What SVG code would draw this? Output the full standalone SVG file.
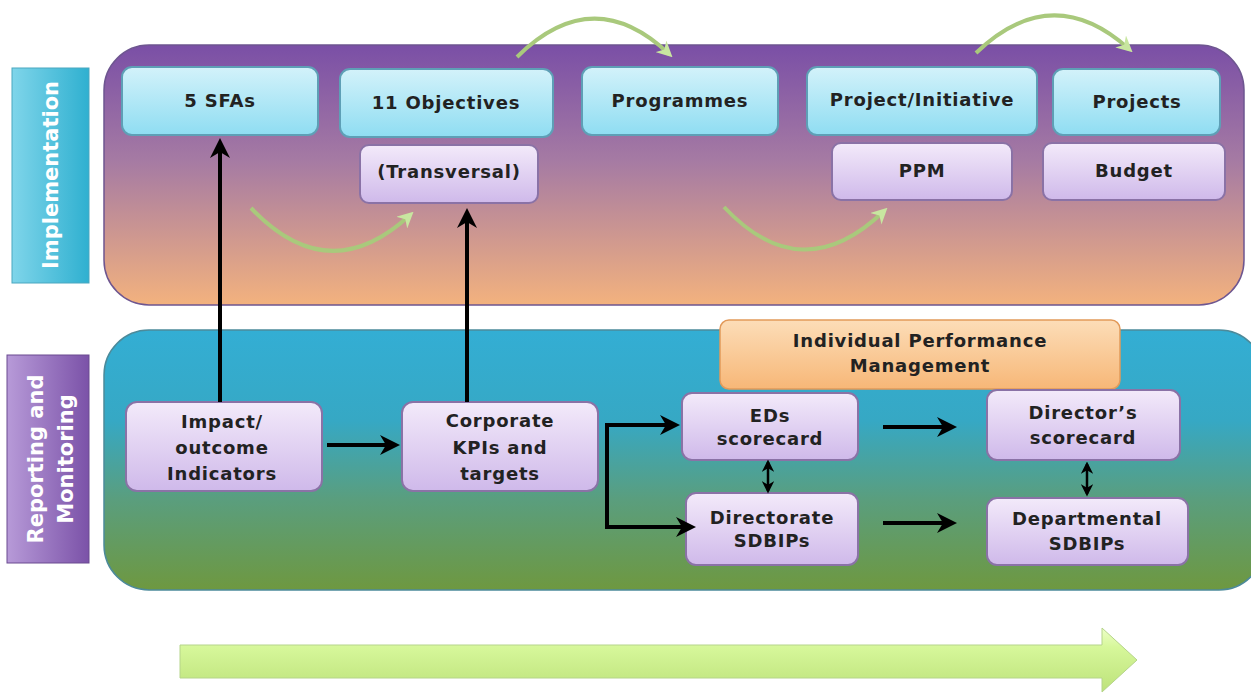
<svg xmlns="http://www.w3.org/2000/svg" width="1251" height="695" viewBox="0 0 1251 695">
<defs>
<linearGradient id="gTop" x1="0" y1="0" x2="0" y2="1"><stop offset="0" stop-color="#7A4FA6"/><stop offset="0.45" stop-color="#A67BA3"/><stop offset="1" stop-color="#F3B27E"/></linearGradient>
<linearGradient id="gBot" x1="0" y1="0" x2="0" y2="1"><stop offset="0" stop-color="#33AED4"/><stop offset="0.35" stop-color="#36A8C4"/><stop offset="0.65" stop-color="#5A9E7E"/><stop offset="1" stop-color="#6E9840"/></linearGradient>
<linearGradient id="gCyan" x1="0" y1="0" x2="0" y2="1"><stop offset="0" stop-color="#D3F2FA"/><stop offset="1" stop-color="#8FDDF2"/></linearGradient>
<linearGradient id="gPur" x1="0" y1="0" x2="0" y2="1"><stop offset="0" stop-color="#F3EAFA"/><stop offset="1" stop-color="#CFB9EA"/></linearGradient>
<linearGradient id="gOr" x1="0" y1="0" x2="0" y2="1"><stop offset="0" stop-color="#FCDDB8"/><stop offset="1" stop-color="#F7B777"/></linearGradient>
<linearGradient id="gLab1" x1="0" y1="0" x2="1" y2="0"><stop offset="0" stop-color="#7FD5EA"/><stop offset="1" stop-color="#2FB0D0"/></linearGradient>
<linearGradient id="gLab2" x1="0" y1="0" x2="1" y2="0"><stop offset="0" stop-color="#B79AD8"/><stop offset="1" stop-color="#7B52A8"/></linearGradient>
<linearGradient id="gArrow" x1="0" y1="0" x2="0" y2="1"><stop offset="0" stop-color="#EEFFC8"/><stop offset="0.3" stop-color="#D6F79A"/><stop offset="1" stop-color="#BDE27A"/></linearGradient>
<marker id="ah" viewBox="0 0 10 10" refX="8" refY="5" markerWidth="5" markerHeight="5" orient="auto-start-reverse"><path d="M0,0 L10,5 L0,10 L3,5 z" fill="#000"/></marker>
<marker id="gh" viewBox="0 0 10 10" refX="7" refY="5" markerWidth="4" markerHeight="4" orient="auto"><path d="M0,0 L10,5 L0,10 L3,5 z" fill="#C8E6A0"/></marker>
</defs>
<style>
.t{font-family:"DejaVu Sans","Liberation Sans",sans-serif;font-weight:bold;font-size:18px;letter-spacing:0.8px;fill:#222;text-anchor:middle}
.lab{font-family:"DejaVu Sans","Liberation Sans",sans-serif;font-weight:bold;font-size:21px;fill:#fff;text-anchor:middle}
.cy{fill:url(#gCyan);stroke:#5E9FB6;stroke-width:2}
.pu{fill:url(#gPur);stroke:#8A72A6;stroke-width:2}
.or{fill:url(#gOr);stroke:#E29A5A;stroke-width:1.5}
.blk{fill:none;stroke:#000;stroke-width:4}
.grn{fill:none;stroke:#A9C97C;stroke-width:4}
</style>
<rect width="1251" height="695" fill="#fff"/>
<g id="panels">
<rect x="104" y="45" width="1140" height="260" rx="45" fill="url(#gTop)" stroke="#6E5690" stroke-width="1.5"/>
<rect x="104" y="330" width="1160" height="260" rx="45" fill="url(#gBot)" stroke="#4C8A9A" stroke-width="1.5"/>
</g>
<g id="label-implementation">
<rect x="12" y="68" width="77" height="215" fill="url(#gLab1)" stroke="#4AA7C0" stroke-width="1"/>
<text class="lab" transform="translate(58,175) rotate(-90)">Implementation</text>
</g>
<g id="label-reporting">
<rect x="7" y="355" width="82" height="208" fill="url(#gLab2)" stroke="#6A4A90" stroke-width="1"/>
<text class="lab" transform="translate(43,459) rotate(-90)">Reporting and</text>
<text class="lab" transform="translate(73,459) rotate(-90)">Monitoring</text>
</g>
<g id="n-sfas"><rect class="cy" x="122" y="67" width="196" height="68" rx="10"/><text class="t" x="220" y="107">5 SFAs</text></g>
<g id="n-objectives"><rect class="cy" x="340" y="69" width="213" height="68" rx="10"/><text class="t" x="446" y="109">11 Objectives</text></g>
<g id="n-programmes"><rect class="cy" x="582" y="67" width="196" height="68" rx="10"/><text class="t" x="680" y="107">Programmes</text></g>
<g id="n-project-initiative"><rect class="cy" x="807" y="67" width="230" height="68" rx="10"/><text class="t" x="922" y="106">Project/Initiative</text></g>
<g id="n-projects"><rect class="cy" x="1053" y="69" width="167" height="66" rx="10"/><text class="t" x="1137" y="108">Projects</text></g>
<g id="n-transversal"><rect class="pu" x="360" y="145" width="178" height="58" rx="9"/><text class="t" x="449" y="178">(Transversal)</text></g>
<g id="n-ppm"><rect class="pu" x="832" y="143" width="180" height="57" rx="9"/><text class="t" x="922" y="177">PPM</text></g>
<g id="n-budget"><rect class="pu" x="1043" y="143" width="182" height="57" rx="9"/><text class="t" x="1134" y="177">Budget</text></g>
<g id="n-ipm"><rect class="or" x="720" y="320" width="400" height="69" rx="9"/><text class="t" x="920" y="347">Individual Performance</text><text class="t" x="920" y="372">Management</text></g>
<g id="n-impact"><rect class="pu" x="126" y="402" width="196" height="89" rx="11"/><text class="t" x="222" y="428">Impact/</text><text class="t" x="222" y="454">outcome</text><text class="t" x="222" y="480">Indicators</text></g>
<g id="n-corporate"><rect class="pu" x="402" y="402" width="196" height="89" rx="11"/><text class="t" x="500" y="427">Corporate</text><text class="t" x="500" y="454">KPIs and</text><text class="t" x="500" y="480">targets</text></g>
<g id="n-eds"><rect class="pu" x="682" y="393" width="176" height="67" rx="10"/><text class="t" x="770" y="422">EDs</text><text class="t" x="770" y="445">scorecard</text></g>
<g id="n-directorate"><rect class="pu" x="686" y="493" width="172" height="72" rx="10"/><text class="t" x="772" y="524">Directorate</text><text class="t" x="772" y="547">SDBIPs</text></g>
<g id="n-directors"><rect class="pu" x="987" y="390" width="193" height="70" rx="10"/><text class="t" x="1083" y="419">Director’s</text><text class="t" x="1083" y="444">scorecard</text></g>
<g id="n-departmental"><rect class="pu" x="987" y="498" width="201" height="67" rx="10"/><text class="t" x="1087" y="525">Departmental</text><text class="t" x="1087" y="550">SDBIPs</text></g>
<g id="connectors">
<path class="blk" d="M220,402 L220,142" marker-end="url(#ah)"/>
<path class="blk" d="M467,402 L467,212" marker-end="url(#ah)"/>
<path class="blk" d="M327,445 L396,445" marker-end="url(#ah)"/>
<path class="blk" d="M676,425 L607,425 L607,527 L692,527" marker-start="url(#ah)" marker-end="url(#ah)"/>
<path class="blk" d="M883,427 L953,427" marker-end="url(#ah)"/>
<path class="blk" d="M883,523 L953,523" marker-end="url(#ah)"/>
<path d="M768,462 L768,491" fill="none" stroke="#000" stroke-width="2.5" marker-start="url(#ah)" marker-end="url(#ah)"/>
<path d="M1087,464 L1087,494" fill="none" stroke="#000" stroke-width="2.5" marker-start="url(#ah)" marker-end="url(#ah)"/>
<path class="grn" d="M517,57 Q593,-18 669,54" marker-end="url(#gh)"/>
<path class="grn" d="M976,53 Q1052,-20 1129,49" marker-end="url(#gh)"/>
<path class="grn" d="M251,208 Q329,290 410,215" marker-end="url(#gh)"/>
<path class="grn" d="M724,207 Q802,290 884,211" marker-end="url(#gh)"/>
</g>
<g id="big-arrow">
<path d="M180,645 L1102,645 L1102,628 L1137,660 L1102,692 L1102,678 L180,678 Z" fill="url(#gArrow)" stroke="#B5D48A" stroke-width="1"/>
</g>
</svg>
